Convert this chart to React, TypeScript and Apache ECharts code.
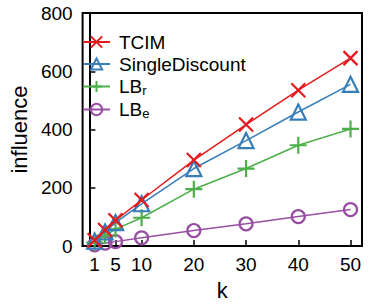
import React, { useEffect, useRef } from "react";
import * as echarts from "echarts";

const kValues = [1, 3, 5, 10, 20, 30, 40, 50];
const tcim = [20, 55, 88, 158, 295, 417, 535, 645];
const singleDiscount = [17, 48, 80, 145, 266, 362, 460, 555];
const lbR = [12, 36, 58, 97, 195, 266, 346, 402];
const lbE = [4, 10, 15, 28, 53, 76, 101, 125];
const xTicks = [1, 5, 10, 20, 30, 40, 50];
const seriesNames = ["TCIM", "SingleDiscount", "LBr", "LBe"];
const colors = ["#e41a1c", "#377eb8", "#4daf4a", "#984ea3"];

const FONT = "'Liberation Sans', Arial, Helvetica, sans-serif";

const X_PATH = "path://M0,0L10,10M10,0L0,10";
const PLUS_PATH = "path://M5,0L5,10M0,5L10,5";

export default function App() {
  const ref = useRef<HTMLDivElement>(null);
  useEffect(() => {
    if (!ref.current) return;
    const chart = echarts.init(ref.current, undefined, { renderer: "svg" });
    const seriesData = [tcim, singleDiscount, lbR, lbE];
    const symbols = [X_PATH, "triangle", PLUS_PATH, "circle"];
    const sizes = [14, 15, 17, 13];
    chart.setOption({
      animation: false,
      textStyle: { fontFamily: FONT },
      grid: { left: 70, right: 12, top: 13, bottom: 59, show: true, borderColor: "#000", borderWidth: 2, backgroundColor: "transparent" },
      legend: {
        orient: "vertical",
        left: 77,
        top: 27,
        itemWidth: 27,
        itemHeight: 14,
        itemGap: 2,
        data: seriesNames,
        formatter: (name: string) => {
          if (name === "LBr") return "{a|LB}{s|r}";
          if (name === "LBe") return "{a|LB}{s|e}";
          return "{a|" + name + "}";
        },
        textStyle: {
          color: "#000",
          fontFamily: FONT,
          fontSize: 19,
          lineHeight: 20,
          padding: [0, 0, 0, 4],
          rich: {
            a: { fontSize: 19, lineHeight: 20, fontFamily: FONT, color: "#000" },
            s: { fontSize: 13, lineHeight: 13, fontFamily: FONT, color: "#000", padding: [8, 0, 0, 0] },
          },
        },
      },
      xAxis: {
        type: "value",
        min: -1.3,
        max: 52.2,
        name: "k",
        nameLocation: "middle",
        nameGap: 33,
        nameTextStyle: { fontSize: 22, color: "#000", fontFamily: FONT },
        axisLine: { show: true, lineStyle: { color: "#000", width: 2 } },
        axisTick: { show: true, inside: true, length: 6, customValues: xTicks, lineStyle: { color: "#000", width: 1.5 } },
        axisLabel: { customValues: xTicks, fontSize: 19, color: "#000", margin: 9, fontFamily: FONT },
        splitLine: { show: false },
      },
      yAxis: {
        type: "value",
        min: 0,
        max: 800,
        interval: 200,
        name: "influence",
        nameLocation: "middle",
        nameGap: 46,
        nameTextStyle: { fontSize: 22, color: "#000", fontFamily: FONT },
        axisLine: { show: true, lineStyle: { color: "#000", width: 2 } },
        axisTick: { show: true, inside: true, length: 6, lineStyle: { color: "#000", width: 1.5 } },
        axisLabel: { fontSize: 19, color: "#000", margin: 10, fontFamily: FONT },
        splitLine: { show: false },
      },
      series: seriesNames.map((name, i) => ({
        name,
        type: "line",
        data: kValues.map((k, j) => [k, seriesData[i][j]]),
        symbol: symbols[i],
        symbolSize: sizes[i],
        showAllSymbol: true,
        lineStyle: { color: colors[i], width: 1.5 },
        itemStyle: { color: "transparent", borderColor: colors[i], borderWidth: 2.2 },
        z: 10 - i,
      })),
    });
    return () => chart.dispose();
  }, []);
  return <div ref={ref} style={{ width: 374, height: 306, position: "absolute", left: 0, top: 0 }} />;
}
